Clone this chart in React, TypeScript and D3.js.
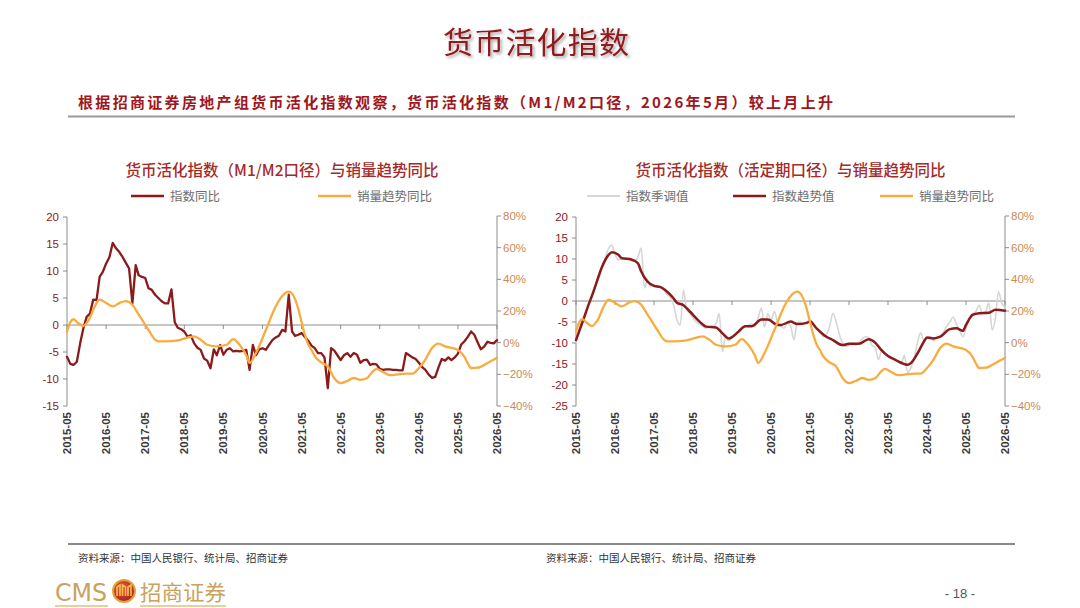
import React from "react";
import * as d3 from "d3";

// ---------------- DATA ----------------
const START_MONTH = "2015-05";
const xTickLabels = [
  "2015-05", "2016-05", "2017-05", "2018-05", "2019-05", "2020-05",
  "2021-05", "2022-05", "2023-05", "2024-05", "2025-05", "2026-05",
];
const leftYTicks = [20, 15, 10, 5, 0, -5, -10, -15];
const rightChartYTicks = [20, 15, 10, 5, 0, -5, -10, -15, -20, -25];
const pctTicks = [0.8, 0.6, 0.4, 0.2, 0, -0.2, -0.4];

// 货币活化指数（M1/M2口径）指数同比, monthly from 2015-05 to 2026-05
const m1m2IndexYoy: number[] = [
  -5.9, -7.2, -7.4, -6.8, -3.4, -0.6, 1.5, 2.1, 4.7, 4.6, 8.9, 9.9,
  11.4, 12.6, 15.2, 14.2, 13.5, 12.6, 11.5, 10.5, 4.0, 11.1, 9.2, 8.9,
  8.7, 6.8, 6.5, 5.6, 5.0, 4.4, 4.0, 4.0, 6.6, 0.5, -0.5, -0.8,
  -1.2, -2.2, -1.9, -3.4, -4.2, -4.6, -6.2, -6.6, -8.0, -4.5, -5.6, -3.7,
  -5.5, -4.6, -4.3, -4.9, -4.8, -4.9, -4.8, -4.6, -8.3, -3.7, -5.6, -4.5,
  -4.3, -4.6, -3.7, -2.8, -2.3, -2.0, -0.9, -1.2, 5.6, -1.2, -2.0, -1.8,
  -1.5, -2.2, -2.9, -3.8, -4.3, -5.2, -5.2, -6.0, -11.7, -4.3, -4.7, -5.6,
  -6.5, -5.6, -5.2, -5.9, -5.2, -5.5, -7.0, -6.5, -6.4, -7.4, -7.2, -7.3,
  -8.1, -8.3, -8.2, -8.2, -8.3, -8.3, -8.4, -8.4, -5.2, -5.6, -6.0, -6.3,
  -7.0, -7.8, -8.3, -9.2, -9.8, -9.6, -7.8, -6.3, -6.6, -6.0, -6.5, -6.0,
  -5.3, -3.6, -3.0, -2.2, -1.2, -1.8, -3.2, -4.5, -4.0, -3.1, -3.3, -3.4,
  -2.8,
];

// 货币活化指数（活定期口径）指数季调值, monthly from 2015-05 to 2026-05
const seasonalAdjIndex: number[] = [
  -9.8, -7, -4.5, -3, -0.5, 1, 3.5, 5.5, 8, 10.5, 12.5, 13.3,
  11, 9.8, 10, 10.2, 10, 9.5, 9.5, 10.5, 12.6, 3.1, 5, 3.5,
  3.8, 3.3, 3.2, 2.5, 1.5, 0.8, -1, -4.5, -5.7, 2.6, -2, -3,
  -4, -5, -5.5, -6, -6.5, -6.2, -6, -5.5, -3, -12.1, -8.5, -9.5,
  -8.8, -8, -7.5, -6.5, -6, -5.8, -5.5, -6.2, -4, -1.7, -6.2, -3,
  -4.5, -2.5, -5, -6, -6.5, -5.2, -6, -9.3, -5.2, -5, -5.5, -5,
  -4.5, -5.5, -6.5, -7.5, -8.5, -8, -6, -2.9, -5, -8.1, -10, -10.8,
  -10.5, -10, -10.5, -10, -9, -8.5, -8.7, -10.5, -11, -14, -12, -12.5,
  -13, -13.5, -14, -14.5, -15, -13, -17, -16, -13.5, -10, -7.6, -9.5,
  -9, -8.5, -9.5, -8.5, -8.5, -7.5, -6, -5, -3.8, -5.5, -7, -8.5,
  -6.5, -4, -3, -2.5, -1, -3, -2.5, -0.5, -6.9, -4, 2.2, -0.5,
  -1.5,
];

// 指数趋势值
const trendIndex: [string, number][] = [
  ["2015-05", -9.3], ["2015-07", -5.0], ["2015-09", -0.5], ["2015-10", 1.5],
  ["2015-11", 3.8], ["2016-01", 8.2], ["2016-03", 11.0], ["2016-04", 11.6],
  ["2016-06", 11.0], ["2016-07", 10.2], ["2016-10", 9.9], ["2016-12", 9.0],
  ["2017-01", 7.0], ["2017-03", 4.6], ["2017-05", 3.6], ["2017-07", 3.3],
  ["2017-09", 2.2], ["2017-11", 0.6], ["2017-12", -0.4], ["2018-02", -1.0],
  ["2018-04", -2.5], ["2018-07", -4.9], ["2018-09", -6.1], ["2018-12", -6.3],
  ["2019-02", -7.7], ["2019-04", -8.9], ["2019-05", -8.6], ["2019-07", -7.3],
  ["2019-09", -6.0], ["2019-11", -6.0], ["2020-02", -4.4], ["2020-04", -4.4],
  ["2020-07", -5.7], ["2020-08", -5.7], ["2020-11", -4.9], ["2021-01", -5.5],
  ["2021-04", -5.2], ["2021-05", -4.9], ["2021-07", -6.5], ["2021-10", -8.5],
  ["2021-12", -9.3], ["2022-03", -10.5], ["2022-05", -10.2], ["2022-08", -10.2],
  ["2022-11", -9.1], ["2023-01", -9.9], ["2023-03", -11.7], ["2023-05", -13.1],
  ["2023-07", -13.9], ["2023-09", -14.7], ["2023-11", -15.2], ["2023-12", -14.8],
  ["2024-02", -12.5], ["2024-04", -9.7], ["2024-05", -8.7], ["2024-07", -8.9],
  ["2024-09", -8.5], ["2024-12", -6.7], ["2025-02", -6.5], ["2025-04", -7.1],
  ["2025-05", -5.7], ["2025-07", -3.3], ["2025-09", -2.9], ["2025-12", -2.8],
  ["2026-02", -2.1], ["2026-05", -2.3],
];

// 销量趋势同比 (%)
const salesTrendYoy: [string, number][] = [
  ["2015-05", 7], ["2015-06", 13], ["2015-07", 14.8], ["2015-08", 13],
  ["2015-09", 11.5], ["2015-10", 10.5], ["2015-11", 12.5], ["2015-12", 15.6],
  ["2016-01", 20.8], ["2016-02", 25], ["2016-03", 27.2], ["2016-05", 25.1],
  ["2016-07", 22.9], ["2016-09", 25], ["2016-11", 26.3], ["2017-01", 24],
  ["2017-03", 17.7], ["2017-04", 14.5], ["2017-06", 8], ["2017-08", 1.9],
  ["2017-09", 0.8], ["2017-11", 0.8], ["2018-03", 1.5], ["2018-06", 3.2],
  ["2018-08", 4.0], ["2018-10", 1.9], ["2018-12", -1.3], ["2019-03", -2.3],
  ["2019-06", -1.3], ["2019-08", 2.3], ["2019-10", -1.5], ["2019-12", -8],
  ["2020-01", -12.8], ["2020-03", -6.5], ["2020-06", 8], ["2020-09", 22.9],
  ["2020-11", 29.5], ["2021-01", 32.2], ["2021-03", 27.5], ["2021-04", 21],
  ["2021-05", 13], ["2021-06", 5], ["2021-07", -1], ["2021-08", -4.5],
  ["2021-09", -8.5], ["2021-11", -12.5], ["2022-01", -15], ["2022-03", -22.3],
  ["2022-05", -25.5], ["2022-07", -24.2], ["2022-09", -22.3], ["2022-11", -23.5],
  ["2023-01", -22.5], ["2023-03", -18], ["2023-04", -16.5], ["2023-06", -18.5],
  ["2023-08", -20.5], ["2023-10", -20.2], ["2024-01", -19.5], ["2024-03", -19.6],
  ["2024-05", -16], ["2024-07", -10.7], ["2024-09", -3.3], ["2024-11", -0.6],
  ["2025-01", -2.3], ["2025-05", -4.6], ["2025-07", -9], ["2025-08", -13],
  ["2025-09", -16], ["2025-11", -15.8], ["2026-02", -12.8], ["2026-05", -9.5],
];

// ---------------- HELPERS ----------------
const parseMonth = d3.timeParse("%Y-%m");
const startDate = parseMonth(START_MONTH) as Date;
const endDate = parseMonth("2026-05") as Date;
const monthlyDates = (n: number) =>
  d3.range(n).map((i) => d3.timeMonth.offset(startDate, i));

const C_RED = "#8B1A1A";
const C_TITLE = "#A52A2A";
const C_ORANGE = "#F9AC3D";
const C_GRAY = "#D6D6D6";
const C_AXIS = "#8C8C8C";
const C_PCT = "#C98B55";
const CJK = "'Noto Sans CJK SC', 'Noto Sans', sans-serif";
const LAT = "'Liberation Sans', Arial, sans-serif";

type Series = {
  pts: [Date, number][];
  axis: "L" | "R";
  color: string;
  width: number;
  curve: d3.CurveFactory;
};

type ChartProps = {
  x0: number;
  x1: number;
  yDomain: [number, number];
  yTicks: number[];
  title: string;
  legend: { label: string; color: string; lx: number; width: number }[];
  series: Series[];
};

function Chart({ x0, x1, yDomain, yTicks, title, legend, series }: ChartProps) {
  const yTop = 217;
  const yBot = 406;
  const x = d3.scaleTime().domain([startDate, endDate]).range([x0, x1]);
  const yL = d3.scaleLinear().domain(yDomain).range([yBot, yTop]);
  const yR = d3.scaleLinear().domain([-0.4, 0.8]).range([yBot, 216]);
  const zeroY = yL(0);
  const xTicks = xTickLabels.map((s) => parseMonth(s) as Date);
  const fmtPct = d3.format(".0%");
  const cx = (x0 + x1) / 2;

  return (
    <g>
      <text x={cx} y={176} textAnchor="middle" fontFamily={CJK} fontSize={15.5} fontWeight={500} fill={C_TITLE}>
        {title}
      </text>
      {legend.map((l) => (
        <g key={l.label}>
          <line x1={l.lx} x2={l.lx + 33} y1={196} y2={196} stroke={l.color} strokeWidth={l.width} />
          <text x={l.lx + 39} y={200.5} fontFamily={CJK} fontSize={12.5} fill="#6E6E6E">
            {l.label}
          </text>
        </g>
      ))}
      {/* left axis */}
      <line x1={x0} x2={x0} y1={yTop} y2={yBot} stroke={C_AXIS} strokeWidth={1} />
      {yTicks.map((t) => (
        <g key={"l" + t}>
          <line x1={x0 - 4} x2={x0} y1={yL(t)} y2={yL(t)} stroke={C_AXIS} />
          <text x={x0 - 8} y={yL(t) + 4} textAnchor="end" fontFamily={LAT} fontSize={11.5} fill={C_RED}>
            {t}
          </text>
        </g>
      ))}
      {/* right axis */}
      <line x1={x1} x2={x1} y1={216} y2={yBot} stroke={C_AXIS} strokeWidth={1} />
      {pctTicks.map((t) => (
        <g key={"r" + t}>
          <line x1={x1} x2={x1 + 4} y1={yR(t)} y2={yR(t)} stroke={C_AXIS} />
          <text x={x1 + 6} y={yR(t) + 4} fontFamily={LAT} fontSize={11.5} fill={C_PCT}>
            {fmtPct(t)}
          </text>
        </g>
      ))}
      {/* x axis at zero */}
      <line x1={x0} x2={x1} y1={zeroY} y2={zeroY} stroke={C_AXIS} strokeWidth={1} />
      {xTicks.map((d, i) => (
        <g key={"x" + i}>
          <line x1={x(d)} x2={x(d)} y1={zeroY} y2={zeroY + 4} stroke={C_AXIS} />
          <text
            transform={`translate(${x(d) + 4},412) rotate(-90)`}
            textAnchor="end"
            fontFamily={LAT}
            fontSize={11.5}
            fontWeight={700}
            fill="#3A3A3A"
          >
            {xTickLabels[i]}
          </text>
        </g>
      ))}
      {series.map((s, i) => {
        const ys = s.axis === "L" ? yL : yR;
        const line = d3
          .line<[Date, number]>()
          .x((p) => x(p[0]))
          .y((p) => ys(s.axis === "L" ? p[1] : p[1] / 100))
          .curve(s.curve);
        return (
          <path
            key={i}
            d={line(s.pts) || ""}
            fill="none"
            stroke={s.color}
            strokeWidth={s.width}
            strokeLinejoin="round"
            strokeLinecap="round"
          />
        );
      })}
    </g>
  );
}

export default function App() {
  const leftRed: [Date, number][] = monthlyDates(m1m2IndexYoy.length).map((d, i) => [d, m1m2IndexYoy[i]]);
  const grayPts: [Date, number][] = monthlyDates(seasonalAdjIndex.length).map((d, i) => [d, seasonalAdjIndex[i]]);
  const trendPts: [Date, number][] = trendIndex.map(([s, v]) => [parseMonth(s) as Date, v]);
  const salesPts: [Date, number][] = salesTrendYoy.map(([s, v]) => [parseMonth(s) as Date, v]);

  return (
    <svg
      width={1080}
      height={608}
      viewBox="0 0 1080 608"
      style={{ position: "absolute", left: 0, top: 0, background: "#fff" }}
    >
      <defs>
        <filter id="sh" x="-10%" y="-30%" width="130%" height="160%">
          <feDropShadow dx="2" dy="2" stdDeviation="1.5" floodColor="#000" floodOpacity="0.35" />
        </filter>
        <radialGradient id="logoG" cx="40%" cy="35%" r="70%">
          <stop offset="0%" stopColor="#E8563A" />
          <stop offset="100%" stopColor="#A81E1E" />
        </radialGradient>
      </defs>
      <rect x={0} y={0} width={1080} height={608} fill="#fff" />

      {/* header */}
      <text x={536} y={53} textAnchor="middle" fontFamily={CJK} fontSize={30} fontWeight={400} fill="#8E1A1E" filter="url(#sh)" textLength={186} lengthAdjust="spacing">
        货币活化指数
      </text>
      <text x={78} y={108} fontFamily={CJK} fontSize={15} fontWeight={700} fill="#A0161C" textLength={755} lengthAdjust="spacing">
        根据招商证券房地产组货币活化指数观察，货币活化指数（M1/M2口径，2026年5月）较上月上升
      </text>
      <line x1={68} x2={1015} y1={116.5} y2={116.5} stroke="#9A9A9A" strokeWidth={2} />

      <Chart
        x0={67}
        x1={497}
        yDomain={[-15, 20]}
        yTicks={leftYTicks}
        title="货币活化指数（M1/M2口径）与销量趋势同比"
        legend={[
          { label: "指数同比", color: C_RED, lx: 131, width: 2.5 },
          { label: "销量趋势同比", color: C_ORANGE, lx: 318, width: 2.5 },
        ]}
        series={[
          { pts: leftRed, axis: "L", color: C_RED, width: 2.3, curve: d3.curveLinear },
          { pts: salesPts, axis: "R", color: C_ORANGE, width: 2.3, curve: d3.curveMonotoneX },
        ]}
      />
      <Chart
        x0={576}
        x1={1005}
        yDomain={[-25, 20]}
        yTicks={rightChartYTicks}
        title="货币活化指数（活定期口径）与销量趋势同比"
        legend={[
          { label: "指数季调值", color: C_GRAY, lx: 587, width: 2 },
          { label: "指数趋势值", color: C_RED, lx: 733, width: 2.5 },
          { label: "销量趋势同比", color: C_ORANGE, lx: 880, width: 2.5 },
        ]}
        series={[
          { pts: grayPts, axis: "L", color: C_GRAY, width: 1.6, curve: d3.curveMonotoneX },
          { pts: trendPts, axis: "L", color: C_RED, width: 2.5, curve: d3.curveMonotoneX },
          { pts: salesPts, axis: "R", color: C_ORANGE, width: 2.3, curve: d3.curveMonotoneX },
        ]}
      />

      {/* footer */}
      <line x1={68} x2={1015} y1={544} y2={544} stroke="#8A8A8A" strokeWidth={2} />
      <text x={78} y={562} fontFamily={CJK} fontSize={10.5} fill="#333">
        资料来源：中国人民银行、统计局、招商证券
      </text>
      <text x={546} y={562} fontFamily={CJK} fontSize={10.5} fill="#333">
        资料来源：中国人民银行、统计局、招商证券
      </text>
      <text x={55} y={601} fontFamily="'DejaVu Sans Condensed', 'Liberation Sans Narrow', sans-serif" fontSize={25} fill="#C9A35E" textLength={52} lengthAdjust="spacingAndGlyphs">
        CMS
      </text>
      <circle cx={124} cy={591} r={11} fill="url(#logoG)" stroke="#E2A33A" strokeWidth={2} />
      <path d="M117 596 L117 587 L120 585 L120 596 M122.5 596 L122.5 585 L125.5 587 L125.5 596 M128 596 L128 587 L131 585 L131 596" stroke="#F3C04A" strokeWidth={1.6} fill="none" />
      <text x={140} y={600} fontFamily={CJK} fontSize={21} fill="#C9A35E" textLength={86} lengthAdjust="spacingAndGlyphs">
        招商证券
      </text>
      <line x1={55} x2={108} y1={606} y2={606} stroke="#D8C08A" strokeWidth={1.5} />
      <line x1={140} x2={226} y1={606} y2={606} stroke="#D8C08A" strokeWidth={1.5} />
      <text x={960} y={598} textAnchor="middle" fontFamily={LAT} fontSize={13} fill="#555">
        - 18 -
      </text>
    </svg>
  );
}
